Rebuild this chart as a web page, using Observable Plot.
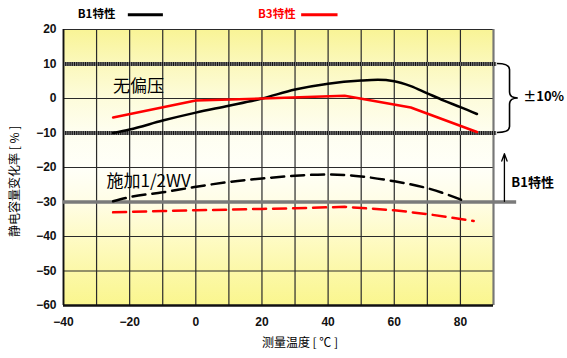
<!DOCTYPE html>
<html><head><meta charset="utf-8">
<script src="https://cdn.jsdelivr.net/npm/d3@7"></script>
<script src="https://cdn.jsdelivr.net/npm/@observablehq/plot@0.6"></script>
<style>body{margin:0;background:#fff;} #chart svg{display:block;}</style>
</head><body><div id="chart"></div>
<script>
// B1 characteristic, no bias (black solid)
const b1NoBiasT = [-25,-20,-10,0,10,20,30,40,50,55,60,65,70,75,80,85];
const b1NoBiasV = [-10,-9,-6.4,-4.1,-2.1,0,2.6,4.3,5.2,5.4,5.0,3.6,1.5,-0.6,-2.5,-4.5];
// B3 characteristic, no bias (red solid)
const b3NoBiasT = [-25,0,20,45,65,85];
const b3NoBiasV = [-5.5,-0.6,0,0.8,-2.6,-9.7];
// B1 with 1/2 WV applied (black dashed)
const b1BiasT = [-25,-20,-10,0,10,20,30,40,50,60,70,82];
const b1BiasV = [-29.8,-28.6,-27.2,-25.6,-24.2,-23.2,-22.4,-22,-22.6,-24,-26,-30];
// B3 with 1/2 WV applied (red dashed)
const b3BiasT = [-25,-10,0,20,30,45,60,70,84];
const b3BiasV = [-33,-32.6,-32.4,-32,-31.8,-31.4,-32.4,-33.5,-35.5];

const xTicks = [-40,-20,0,20,40,60,80];
const yTicks = [-60,-50,-40,-30,-20,-10,0,10,20];
const xGrid = d3.range(-40, 91, 10);
const yGrid = d3.range(-60, 21, 10);
const limits = [10,-10];

const toRows = (T, V) => T.map((t, i) => ({t, v: V[i]}));
const cjk = "'Noto Sans CJK SC', 'Liberation Sans', sans-serif";

const plot = Plot.plot({
  width: 567, height: 358,
  marginLeft: 63, marginRight: 74, marginTop: 29, marginBottom: 53,
  style: {fontFamily: "'Liberation Sans', Arial, sans-serif", fontSize: "12px", background: "#fff", overflow: "visible"},
  x: {domain: [-40, 90], ticks: xTicks, tickSize: 0, tickPadding: 12, label: null},
  y: {domain: [-60, 20], ticks: yTicks, tickSize: 0, tickPadding: 7, label: null},
  marks: [
    Plot.frame({fill: "url(#bgGrad)", stroke: null}),
    Plot.ruleX(xGrid, {stroke: "#2a2a2a", strokeWidth: 1.2}),
    Plot.ruleY(yGrid, {stroke: "#2a2a2a", strokeWidth: 1.2}),
    Plot.ruleX([90], {stroke: "#777", strokeWidth: 2}),
    Plot.ruleY([-60], {stroke: "#111", strokeWidth: 2.5}),
    Plot.ruleX([-40], {stroke: "#111", strokeWidth: 1.8}),
    Plot.ruleY(limits, {x1: -40, x2: 91, stroke: "#777", strokeWidth: 4}),
    Plot.ruleY(limits, {x1: -40, x2: 91, stroke: "#111", strokeWidth: 4, strokeDasharray: "1,1.2"}),
    Plot.ruleY([-30], {x1: -40, x2: 97, stroke: "#7a7a7a", strokeWidth: 3.5}),
    Plot.axisX({ticks: xTicks, tickSize: 0, tickPadding: 12, fontWeight: "bold", fill: "#111"}),
    Plot.axisY({ticks: yTicks, tickSize: 0, tickPadding: 7, fontWeight: "bold", fill: "#111"}),
    Plot.line(toRows(b1NoBiasT, b1NoBiasV), {x: "t", y: "v", stroke: "#000", strokeWidth: 2.5, curve: "monotone-x"}),
    Plot.line(toRows(b3NoBiasT, b3NoBiasV), {x: "t", y: "v", stroke: "#ff0000", strokeWidth: 2.5}),
    Plot.line(toRows(b1BiasT, b1BiasV), {x: "t", y: "v", stroke: "#000", strokeWidth: 2.5, strokeDasharray: "13,7", curve: "monotone-x"}),
    Plot.line(toRows(b3BiasT, b3BiasV), {x: "t", y: "v", stroke: "#ff0000", strokeWidth: 2.5, strokeDasharray: "13,7"}),
    // annotations
    Plot.text(["无偏压"], {x: -25, y: 3.5, textAnchor: "start", fontSize: 17, fontFamily: cjk, fill: "#000"}),
    Plot.text(["施加1/2WV"], {x: -27, y: -24, textAnchor: "start", fontSize: 17, fontFamily: cjk, fill: "#000"}),
    Plot.text(["±10%"], {x: 99, y: 0.5, textAnchor: "start", fontSize: 13, fontFamily: cjk, fontWeight: "bold", fill: "#000"}),
    Plot.text(["B1特性"], {x: 95.4, y: -24.5, textAnchor: "start", fontSize: 13, fontFamily: cjk, fontWeight: "bold", fill: "#000"}),
    Plot.arrow([{x: 93.3, y1: -29.8, y2: -16}], {x1: "x", x2: "x", y1: "y1", y2: "y2", stroke: "#000", strokeWidth: 1.3, headLength: 9, headAngle: 40}),
    // legend
    Plot.text(["B1特性"], {x: -30, y: 24.4, fontSize: 11.5, fontFamily: cjk, fontWeight: "bold", fill: "#000"}),
    Plot.ruleY([24.3], {x1: -20.4, x2: -9.8, stroke: "#000", strokeWidth: 3}),
    Plot.text(["B3特性"], {x: 24.5, y: 24.4, fontSize: 11.5, fontFamily: cjk, fontWeight: "bold", fill: "#ff0000"}),
    Plot.ruleY([24.3], {x1: 32, x2: 43, stroke: "#ff0000", strokeWidth: 3}),
    // axis titles
    Plot.text(["测量温度 [ ℃ ]"], {x: 31.5, y: -71, fontSize: 12, fontFamily: cjk, fill: "#000"}),
    Plot.text(["静电容量变化率 [ % ]"], {x: -54.5, y: -24, rotate: -90, fontSize: 12, fontFamily: cjk, fill: "#000"})
  ]
});

// gradient background definition
const svg = d3.select(plot);
const defs = svg.insert("defs", ":first-child");
const g = defs.append("linearGradient").attr("id", "bgGrad").attr("x1", 0).attr("y1", 0).attr("x2", 0).attr("y2", 1);
[["0%","#f9f496"],["12.5%","#fbf8bc"],["25%","#fdfcdb"],["37.5%","#fefef0"],["50%","#fffff8"],["62.5%","#fffde6"],["75%","#fefbc6"],["87.5%","#fcf8a8"],["100%","#faf68e"]]
  .forEach(([o,c]) => g.append("stop").attr("offset", o).attr("stop-color", c));

// curly brace for ±10%
const xs = plot.scale("x"), ys = plot.scale("y");
const bx0 = xs.apply(91.2), bx1 = xs.apply(95.0), bx2 = xs.apply(97.5);
const yt = ys.apply(10), ym = ys.apply(0), yb = ys.apply(-10);
const r = 6;
const path = `M${bx0},${yt} Q${bx1},${yt} ${bx1},${yt + r} L${bx1},${ym - r} Q${bx1},${ym} ${bx2},${ym} Q${bx1},${ym} ${bx1},${ym + r} L${bx1},${yb - r} Q${bx1},${yb} ${bx0},${yb}`;
svg.append("path").attr("d", path).attr("fill", "none").attr("stroke", "#000").attr("stroke-width", 1.6);

document.getElementById("chart").appendChild(plot);
</script>
</body></html>
